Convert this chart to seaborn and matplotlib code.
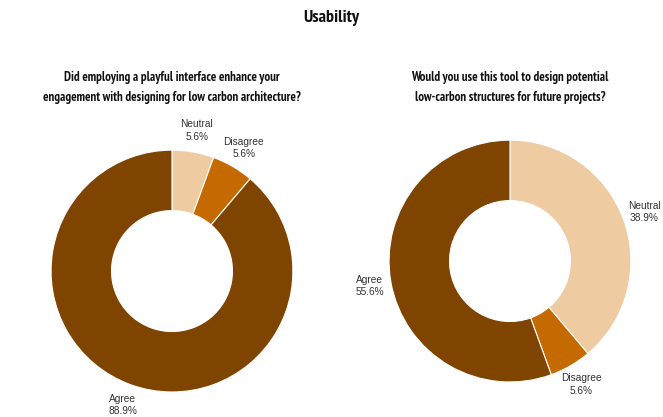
import matplotlib
matplotlib.use("Agg")
import matplotlib.pyplot as plt
import seaborn as sns
from matplotlib import font_manager

# survey answers (share of respondents)
categories = ['Neutral', 'Disagree', 'Agree']
q1_values = [5.6, 5.6, 88.9]
q2_values = [38.9, 5.6, 55.6]
colors = ['#eecba1', '#c56a00', '#7f4400']

title = 'Usability'
q1_title = 'Did employing a playful interface enhance your\nengagement with designing for low carbon architecture?'
q2_title = 'Would you use this tool to design potential\nlow-carbon structures for future projects?'

sns.set_theme(style='white')
plt.rcParams['font.family'] = ['Liberation Sans', 'DejaVu Sans']


def find_font(want, avoid):
  # pick a font file by its file name, so narrow / regular do not get mixed up
  for f in font_manager.fontManager.ttflist:
    fn = f.fname.lower()
    if all(w in fn for w in want) and not any(a in fn for a in avoid):
      return font_manager.FontProperties(fname=f.fname)
  return None

label_font = find_font(['liberationsans-regular'], ['narrow']) or font_manager.FontProperties(family='Liberation Sans')
head_font = find_font(['liberationsansnarrow-bold'], ['italic']) or \
  find_font(['narrow', 'bold'], ['italic']) or \
  font_manager.FontProperties(family='Liberation Sans', weight='bold')


def donut(ax, values):
  labels = [c + '\n' + format(v, '.1f') + '%' for c, v in zip(categories, values)]
  wedges, texts = ax.pie(values, labels=labels, colors=colors, startangle=90,
                         counterclock=False, labeldistance=1.18,
                         wedgeprops=dict(width=0.5, edgecolor='white', linewidth=0.8))
  for t in texts:
    t.set_fontproperties(label_font)
    t.set_fontsize(7.3)
    t.set_color('#333333')
    t.set_ha('center')
    t.set_va('center')
    t.set_linespacing(1.3)
  ax.set_xlim(-1, 1)
  ax.set_ylim(-1, 1)
  ax.axis('off')


fig = plt.figure(figsize=(6.63, 4.17), dpi=100)
ax1 = fig.add_axes([0.0769, 0.060, 0.365, 0.580])
ax2 = fig.add_axes([0.5867, 0.084, 0.365, 0.580])
donut(ax1, q1_values)
donut(ax2, q2_values)

t = fig.text(0.5, 1 - 18 / 417, title, ha='center', va='center', color='#111111')
t.set_fontproperties(head_font)
t.set_fontsize(13)
for x, s in [(172, q1_title), (510, q2_title)]:
  t = fig.text(x / 663, 1 - 87.5 / 417, s, ha='center', va='center',
               color='#111111', linespacing=1.65)
  t.set_fontproperties(head_font)
  t.set_fontsize(9.3)

fig.savefig('out.png', dpi=100)
